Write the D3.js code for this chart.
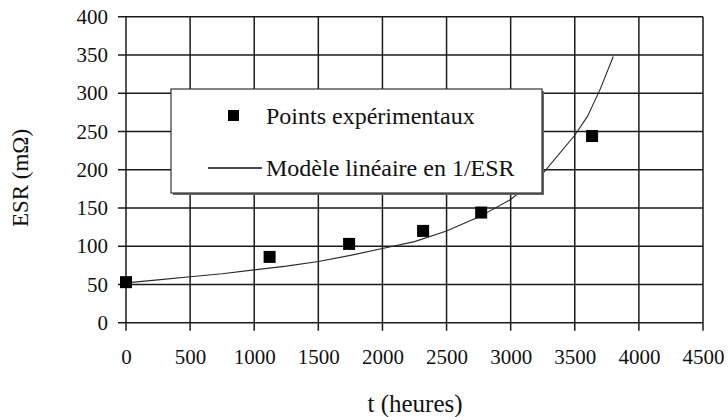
<!DOCTYPE html>
<html><head><meta charset="utf-8">
<script src="https://cdn.jsdelivr.net/npm/d3@7"></script>
<style>body{margin:0;background:#fff}svg{display:block}</style>
</head><body><svg id="c" width="728" height="417"></svg>
<script>
const xTicks = [0,500,1000,1500,2000,2500,3000,3500,4000,4500];
const yTicks = [0,50,100,150,200,250,300,350,400];
const expT = [0,1120,1740,2317,2770,3635];
const expESR = [53,86,103,120,144,244];
const modelT = [0,250,500,750,1000,1250,1500,1750,2000,2250,2500,2750,3000,3250,3500,3600,3700,3800];
const modelESR = [52,56,60,64,69,74,80,88,97,106,120,138,161,195,245,270,306,348];
const legendLabels = ["Points expérimentaux","Modèle linéaire en 1/ESR"];
const xTitle = "t (heures)", yTitle = "ESR (mΩ)";
const FONT = "Liberation Serif";

const svg = d3.select("#c");
const x = d3.scaleLinear().domain([0,4500]).range([126,703]);
const y = d3.scaleLinear().domain([0,400]).range([322.7,16.7]);

const g = svg.append("g");
g.selectAll(".vx").data(xTicks).join("line")
  .attr("x1",d=>x(d)).attr("x2",d=>x(d)).attr("y1",y(400)).attr("y2",y(0)+8)
  .attr("stroke","#1a1a1a").attr("stroke-width",1.5);
g.selectAll(".hy").data(yTicks).join("line")
  .attr("y1",d=>y(d)).attr("y2",d=>y(d)).attr("x1",x(0)-8).attr("x2",x(4500))
  .attr("stroke","#1a1a1a").attr("stroke-width",1.5);

const xa = svg.append("g").attr("transform",`translate(0,${y(0)})`)
  .call(d3.axisBottom(x).tickValues(xTicks).tickSize(0).tickPadding(26).tickFormat(d3.format("d")));
xa.attr("font-family",FONT).attr("font-size",21);
xa.select(".domain").remove();
xa.selectAll("text").attr("font-family",FONT).attr("font-size",21).attr("fill","#111");
const ya = svg.append("g").attr("transform",`translate(${x(0)},0)`)
  .call(d3.axisLeft(y).tickValues(yTicks).tickSize(0).tickPadding(18).tickFormat(d3.format("d")));
ya.attr("font-family",FONT).attr("font-size",21);
ya.select(".domain").remove();
ya.selectAll("text").attr("font-family",FONT).attr("font-size",21).attr("fill","#111");

const line = d3.line().x(d=>x(d[0])).y(d=>y(d[1]));
svg.append("path").datum(modelT.map((t,i)=>[t,modelESR[i]]))
  .attr("d",line).attr("fill","none").attr("stroke","#2a2a2a").attr("stroke-width",1.1);

svg.selectAll(".pt").data(expT.map((t,i)=>[t,expESR[i]])).join("rect")
  .attr("x",d=>x(d[0])-6).attr("y",d=>y(d[1])-6).attr("width",12).attr("height",12).attr("fill","#000");

const lg = svg.append("g");
lg.append("rect").attr("x",173).attr("y",91).attr("width",371).attr("height",104).attr("fill","#666");
lg.append("rect").attr("x",171).attr("y",89).attr("width",371).attr("height",104).attr("fill","#fff").attr("stroke","#333").attr("stroke-width",1.2);
lg.append("rect").attr("x",228).attr("y",110).attr("width",11).attr("height",11).attr("fill","#000");
lg.append("line").attr("x1",208).attr("x2",262).attr("y1",168).attr("y2",168).attr("stroke","#111").attr("stroke-width",1.3);
lg.selectAll(".lt").data(legendLabels).join("text")
  .attr("x",266).attr("y",(d,i)=>124+i*52).attr("font-family",FONT).attr("font-size",24).attr("fill","#111").text(d=>d);

svg.append("text").attr("x",415).attr("y",412).attr("text-anchor","middle").attr("font-family",FONT).attr("font-size",25).attr("fill","#111").text(xTitle);
svg.append("text").attr("transform","translate(28,178) rotate(-90)").attr("text-anchor","middle").attr("font-family",FONT).attr("font-size",23).attr("fill","#111").text(yTitle);
</script></body></html>
